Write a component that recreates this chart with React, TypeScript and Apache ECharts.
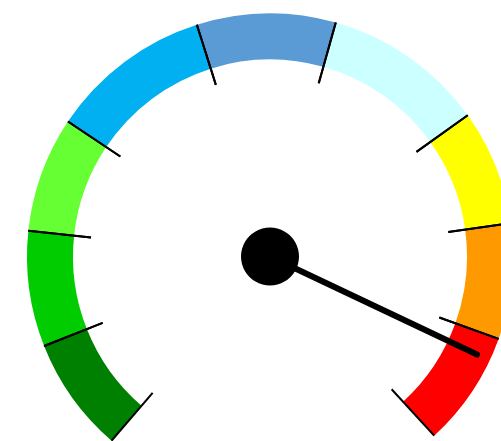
import React, { useEffect, useRef } from "react";
import * as echarts from "echarts";

// Gauge scale and band thresholds
const gaugeMin = 0;
const gaugeMax = 100;
const bandEdges = [0, 10, 20, 30, 44, 56, 70, 80, 90, 100];
const bandColors = [
  "#008000",
  "#00cc00",
  "#66ff33",
  "#00b0f0",
  "#5b9bd5",
  "#ccffff",
  "#ffff00",
  "#ff9900",
  "#ff0000",
];
const needleValue = 92;

const START = 229.3;
const END = -47.5;
const CENTER = [270, 256.5];
const RADIUS = 243;
const BAND_W = 46;

const angleOf = (v: number) =>
  START - ((v - gaugeMin) / (gaugeMax - gaugeMin)) * (START - END);

export default function App() {
  const ref = useRef<HTMLDivElement>(null);
  useEffect(() => {
    document.body.style.margin = "0";
    if (!ref.current) return;
    const chart = echarts.init(ref.current, null, { renderer: "svg" });
    const stops = bandColors.map((c, i) => [
      (bandEdges[i + 1] - gaugeMin) / (gaugeMax - gaugeMin),
      c,
    ]);
    const bandSeries = bandColors.map((c, i) => ({
      type: "gauge",
      center: CENTER,
      radius: RADIUS,
      min: bandEdges[i],
      max: bandEdges[i + 1],
      startAngle: angleOf(bandEdges[i]),
      endAngle: angleOf(bandEdges[i + 1]),
      splitNumber: 1,
      z: 3,
      axisLine: { show: false, lineStyle: { width: BAND_W } },
      splitLine: {
        show: true,
        distance: -BAND_W,
        length: 63,
        lineStyle: { color: "#000", width: 2 },
      },
      axisTick: { show: false },
      axisLabel: { show: false },
      pointer: { show: false },
      anchor: { show: false },
      title: { show: false },
      detail: { show: false },
      data: [],
    }));
    chart.setOption({
      animation: false,
      series: [
        {
          type: "gauge",
          center: CENTER,
          radius: RADIUS,
          min: gaugeMin,
          max: gaugeMax,
          startAngle: START,
          endAngle: END,
          z: 2,
          axisLine: { lineStyle: { width: BAND_W, color: stops } },
          splitLine: { show: false },
          axisTick: { show: false },
          axisLabel: { show: false },
          pointer: { show: false },
          anchor: { show: false },
          title: { show: false },
          detail: { show: false },
          data: [],
        },
        ...bandSeries,
        {
          type: "gauge",
          center: CENTER,
          radius: RADIUS,
          min: gaugeMin,
          max: gaugeMax,
          startAngle: START,
          endAngle: END,
          z: 5,
          axisLine: { show: false },
          splitLine: { show: false },
          axisTick: { show: false },
          axisLabel: { show: false },
          pointer: {
            show: true,
            icon: "path://M0,3 A3,3 0 0 1 6,3 L6,232 L0,232 Z",
            length: 232,
            width: 6,
            offsetCenter: [0, 0],
            itemStyle: { color: "#000" },
          },
          anchor: {
            show: true,
            showAbove: true,
            size: 58,
            itemStyle: { color: "#000" },
          },
          title: { show: false },
          detail: { show: false },
          data: [{ value: needleValue }],
        },
      ],
    });
    return () => chart.dispose();
  }, []);
  return <div ref={ref} style={{ width: 501, height: 441 }} />;
}
